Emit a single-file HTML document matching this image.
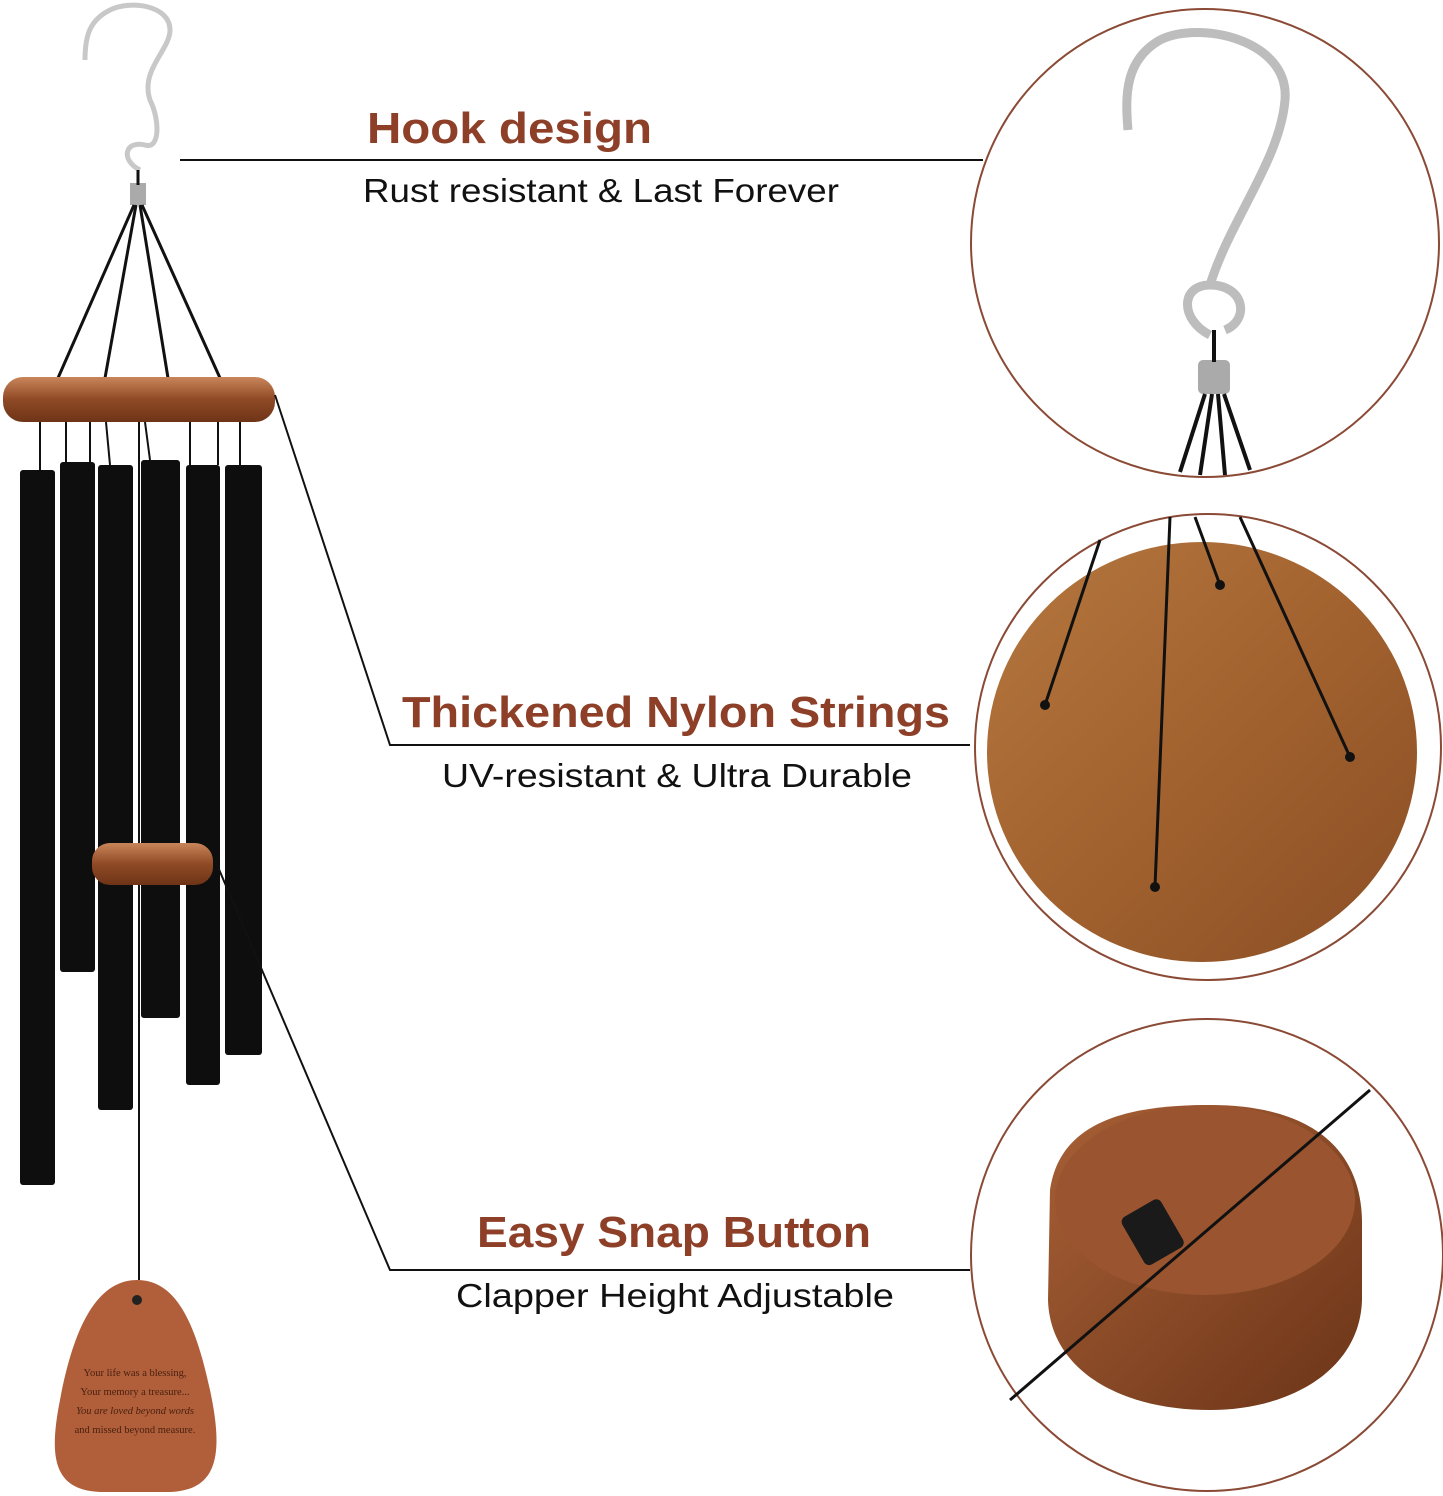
<!DOCTYPE html>
<html><head><meta charset="utf-8"><style>
html,body{margin:0;padding:0;background:#fff;}
svg{display:block;}
</style></head><body>
<svg width="1443" height="1496" viewBox="0 0 1443 1496" xmlns="http://www.w3.org/2000/svg">
<defs>
<linearGradient id="wood" x1="0" y1="0" x2="1" y2="1">
<stop offset="0" stop-color="#b5773f"/><stop offset="0.5" stop-color="#a2622f"/><stop offset="1" stop-color="#8a4e24"/>
</linearGradient>
<linearGradient id="ring" x1="0" y1="0" x2="0" y2="1">
<stop offset="0" stop-color="#c9855a"/><stop offset="0.5" stop-color="#8f4a25"/><stop offset="1" stop-color="#6e3417"/>
</linearGradient>
<linearGradient id="cyl" x1="0" y1="0" x2="1" y2="1">
<stop offset="0" stop-color="#a86036"/><stop offset="1" stop-color="#6b3418"/>
</linearGradient>
</defs>

<path d="M140 170 C 120 160 125 140 145 145 C 160 150 160 120 150 100 C 140 70 170 50 170 30 C 170 5 130 0 110 10 C 90 20 85 35 85 60" fill="none" stroke="#c8c8c8" stroke-width="5"/>
<rect x="130" y="183" width="16" height="22" fill="#aaa"/>
<line x1="138" y1="170" x2="138" y2="185" stroke="#111" stroke-width="3"/>
<g stroke="#111" stroke-width="3">
<line x1="134" y1="205" x2="58" y2="378"/><line x1="136" y1="205" x2="105" y2="378"/>
<line x1="140" y1="205" x2="168" y2="378"/><line x1="142" y1="205" x2="220" y2="378"/>
</g>
<rect x="3" y="377" width="272" height="45" rx="20" fill="url(#ring)"/>
<g stroke="#111" stroke-width="2">
<line x1="40" y1="422" x2="40" y2="470"/><line x1="66" y1="422" x2="66" y2="462"/>
<line x1="90" y1="422" x2="90" y2="462"/><line x1="106" y1="422" x2="110" y2="465"/>
<line x1="145" y1="422" x2="150" y2="460"/><line x1="190" y1="422" x2="190" y2="465"/>
<line x1="218" y1="422" x2="218" y2="465"/><line x1="240" y1="422" x2="240" y2="465"/>
<line x1="139" y1="422" x2="139" y2="1280"/>
</g>
<g fill="#0e0e0e">
<rect x="20" y="470" width="35" height="715" rx="3"/>
<rect x="60" y="462" width="35" height="510" rx="3"/>
<rect x="98" y="465" width="35" height="645" rx="3"/>
<rect x="141" y="460" width="39" height="558" rx="3"/>
<rect x="186" y="465" width="34" height="620" rx="3"/>
<rect x="225" y="465" width="37" height="590" rx="3"/>
</g>
<rect x="92" y="843" width="121" height="42" rx="18" fill="url(#ring)"/>
<path d="M137 1280 C 175 1280 195 1320 210 1390 C 225 1460 215 1490 170 1492 L 100 1492 C 55 1490 48 1460 60 1400 C 75 1320 100 1280 137 1280 Z" fill="#b05f3a"/>
<circle cx="137" cy="1300" r="5" fill="#222"/>
<g font-family="Liberation Serif, serif" font-size="10.5" fill="#4a2010" text-anchor="middle">
<text x="135" y="1376">Your life was a blessing,</text>
<text x="135" y="1395">Your memory a treasure...</text>
<text x="135" y="1414" font-style="italic">You are loved beyond words</text>
<text x="135" y="1433">and missed beyond measure.</text>
</g>

<g stroke="#111" stroke-width="2" fill="none">
<line x1="180" y1="160" x2="983" y2="160"/>
<polyline points="275,395 390,745 970,745"/>
<polyline points="215,860 390,1270 970,1270"/>
</g>

<g font-family="Liberation Sans, sans-serif">
<text x="367" y="143" font-size="44" font-weight="bold" fill="#8e3f28" textLength="285" lengthAdjust="spacingAndGlyphs">Hook design</text>
<text x="363" y="202" font-size="33" fill="#111" textLength="476" lengthAdjust="spacingAndGlyphs">Rust resistant &amp; Last Forever</text>
<text x="402" y="727" font-size="44" font-weight="bold" fill="#8e3f28" textLength="548" lengthAdjust="spacingAndGlyphs">Thickened Nylon Strings</text>
<text x="442" y="787" font-size="33" fill="#111" textLength="470" lengthAdjust="spacingAndGlyphs">UV-resistant &amp; Ultra Durable</text>
<text x="477" y="1247" font-size="44" font-weight="bold" fill="#8e3f28" textLength="394" lengthAdjust="spacingAndGlyphs">Easy Snap Button</text>
<text x="456" y="1307" font-size="33" fill="#111" textLength="438" lengthAdjust="spacingAndGlyphs">Clapper Height Adjustable</text>
</g>

<circle cx="1205" cy="243" r="234" fill="#fff" stroke="#8a4a35" stroke-width="2"/>
<path d="M1210 335 C 1180 320 1180 285 1210 285 C 1245 285 1250 320 1225 330 M1210 285 C 1230 220 1280 160 1285 100 C 1290 40 1200 20 1160 40 C 1125 60 1125 95 1128 130" fill="none" stroke="#bdbdbd" stroke-width="9"/>
<rect x="1198" y="360" width="32" height="34" rx="5" fill="#aaa"/>
<g stroke="#111" stroke-width="4"><line x1="1214" y1="330" x2="1214" y2="362"/>
<line x1="1205" y1="394" x2="1180" y2="472"/><line x1="1212" y1="394" x2="1200" y2="475"/>
<line x1="1218" y1="394" x2="1225" y2="475"/><line x1="1224" y1="394" x2="1250" y2="470"/></g>

<circle cx="1208" cy="747" r="233" fill="#fff" stroke="#8a4a35" stroke-width="2"/>
<ellipse cx="1202" cy="752" rx="215" ry="210" fill="url(#wood)"/>
<g stroke="#111" stroke-width="3">
<line x1="1100" y1="540" x2="1045" y2="705"/><line x1="1195" y1="517" x2="1220" y2="585"/>
<line x1="1240" y1="517" x2="1350" y2="757"/><line x1="1170" y1="517" x2="1155" y2="887"/>
</g>
<g fill="#111"><circle cx="1045" cy="705" r="5"/><circle cx="1220" cy="585" r="5"/><circle cx="1350" cy="757" r="5"/><circle cx="1155" cy="887" r="5"/></g>

<circle cx="1207" cy="1255" r="236" fill="#fff" stroke="#8a4a35" stroke-width="2"/>
<path d="M1050 1190 C 1060 1120 1130 1105 1210 1105 C 1300 1105 1360 1140 1362 1220 L 1362 1300 C 1360 1370 1290 1410 1210 1410 C 1120 1410 1050 1370 1048 1300 Z" fill="url(#cyl)"/>
<ellipse cx="1205" cy="1200" rx="150" ry="95" fill="#9a5530"/>
<line x1="1010" y1="1400" x2="1370" y2="1090" stroke="#111" stroke-width="3"/>
<rect x="1130" y="1205" width="45" height="55" rx="6" fill="#1a1a1a" transform="rotate(-30 1152 1232)"/>
</svg>
</body></html>
